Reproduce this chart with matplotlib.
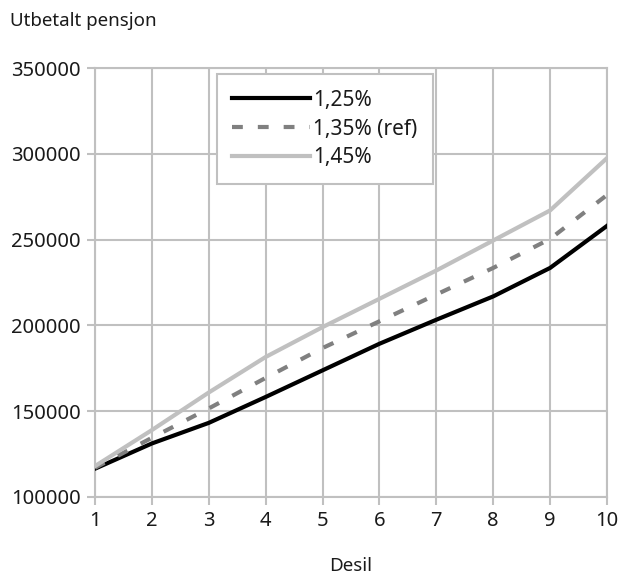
import matplotlib
matplotlib.use("Agg")
import matplotlib.pyplot as plt

deciles = [1, 2, 3, 4, 5, 6, 7, 8, 9, 10]
rate_125 = [116500, 131200, 143200, 158300, 173800, 189300, 203300, 216900, 233500, 258000]
rate_135 = [117000, 134500, 151600, 169400, 186800, 202400, 218000, 233500, 250400, 276000]
rate_145 = [118000, 139000, 160900, 181600, 199000, 215500, 232000, 249500, 267000, 297500]
labels = ["1,25%", "1,35% (ref)", "1,45%"]
y_ticks = [100000, 150000, 200000, 250000, 300000, 350000]

plt.rcParams['font.family'] = ['Noto Sans', 'DejaVu Sans']
FS = 14.5
GRID = '#c0c0c0'
TXT = '#1a1a1a'

fig = plt.figure(figsize=(6.21, 5.77), dpi=100)
ax = fig.add_axes([95/621, 80/577, 512/621, 429/577])

ax.plot(deciles, rate_125, color='black', lw=3.0, label=labels[0], zorder=3)
ax.plot(deciles, rate_135, color='#808080', lw=3.0, label=labels[1], dashes=(2.6, 3.6), zorder=3)
ax.plot(deciles, rate_145, color=GRID, lw=3.0, label=labels[2], zorder=3)

ax.set_xlim(1, 10)
ax.set_ylim(100000, 350000)
ax.set_xticks(deciles)
ax.set_yticks(y_ticks)
ax.set_xticklabels([str(d) for d in deciles], fontsize=FS)
ax.set_yticklabels([str(v) for v in y_ticks], fontsize=FS)
ax.grid(True, color=GRID, lw=1.5)
ax.set_axisbelow(True)
for s in ax.spines.values():
    s.set_color(GRID)
    s.set_linewidth(1.5)
ax.tick_params(axis='both', color=GRID, width=1.5, length=6, pad=4, labelcolor=TXT)

ax.set_xlabel("Desil", fontsize=13.5, labelpad=19, color=TXT)
fig.text(10/621, 1 - 21/577, "Utbetalt pensjon", fontsize=13.5, va='center', ha='left', color=TXT)

leg = ax.legend(loc='upper left', bbox_to_anchor=(0.238, 0.986), fontsize=15,
                frameon=True, fancybox=False, framealpha=1, edgecolor=GRID,
                handlelength=3.7, handletextpad=0.15, labelspacing=0.38,
                borderpad=0.75, borderaxespad=0)
leg.get_frame().set_linewidth(1.5)
for t in leg.get_texts():
    t.set_color(TXT)

fig.savefig("out.png", dpi=100)
